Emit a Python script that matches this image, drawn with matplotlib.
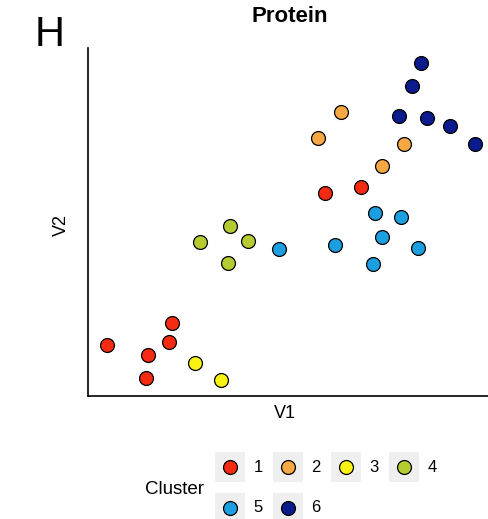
import matplotlib.pyplot as plt
from matplotlib.patches import Rectangle
from matplotlib.lines import Line2D

plt.rcParams['font.family'] = ['Liberation Sans', 'DejaVu Sans']

# cluster membership and coordinates
clusters = ['1', '2', '3', '4', '5', '6']
colors = ['#f42b12', '#f5a843', '#f8f312', '#b5cb2f', '#1b9fe0', '#0b1a8c']

v1 = {
    '1': [59.0, 67.9, 4.7, 20.9, 20.1, 14.9, 14.4],
    '2': [62.9, 57.2, 78.6, 73.1],
    '3': [26.6, 33.1],
    '4': [35.3, 27.9, 39.8, 34.8],
    '5': [47.5, 61.4, 71.4, 77.9, 73.1, 82.1, 70.9],
    '6': [82.8, 80.6, 77.4, 84.3, 90.0, 96.3],
}
v2 = {
    '1': [58.3, 60.1, 14.7, 21.0, 15.5, 11.8, 5.2],
    '2': [81.6, 74.1, 72.4, 66.1],
    '3': [9.5, 4.6],
    '4': [48.9, 44.3, 44.5, 38.2],
    '5': [42.2, 43.4, 52.6, 51.4, 45.7, 42.5, 37.9],
    '6': [95.7, 89.1, 80.5, 79.9, 77.6, 72.4],
}

W, H = 488, 519
fig = plt.figure(figsize=(W / 100, H / 100), dpi=100)
ax = fig.add_axes([88 / W, (H - 396) / H, 402 / W, 348 / H])

for c, col in zip(clusters, colors):
    ax.scatter(v1[c], v2[c], s=100, color=col, edgecolor='black', linewidth=0.9, zorder=3)

ax.set_xlim(0, 100)
ax.set_ylim(0, 100)
ax.set_xticks([])
ax.set_yticks([])
for side in ['top', 'right']:
    ax.spines[side].set_visible(False)
for side in ['left', 'bottom']:
    ax.spines[side].set_linewidth(1.2)

fig.text(290 / W, 1 - 16 / H, 'Protein', ha='center', va='center', fontsize=16, fontweight='bold')
fig.text(50 / W, 1 - 35 / H, 'H', ha='center', va='center', fontsize=30)
fig.text(285 / W, 1 - 413 / H, 'V1', ha='center', va='center', fontsize=13)
fig.text(61 / W, 1 - 225 / H, 'V2', ha='center', va='center', fontsize=13, rotation=90)

# legend drawn by hand: grey key boxes in two rows
fig.text(174 / W, 1 - 489 / H, 'Cluster', ha='center', va='center', fontsize=13.5)
for i, (c, col) in enumerate(zip(clusters, colors)):
    row, colno = divmod(i, 4)
    x0 = 215 + colno * 58
    yc = 467 + row * 41
    fig.add_artist(Rectangle((x0 / W, 1 - (yc + 15) / H), 30 / W, 30 / H,
                             transform=fig.transFigure, facecolor='#efefef', edgecolor='none'))
    fig.add_artist(Line2D([(x0 + 15) / W], [1 - yc / H], transform=fig.transFigure,
                          marker='o', markersize=10, markerfacecolor=col,
                          markeredgecolor='black', markeredgewidth=0.9, linestyle='none'))
    fig.text((x0 + 43) / W, 1 - yc / H, c, ha='center', va='center', fontsize=12)

fig.savefig('out.png', dpi=100)
